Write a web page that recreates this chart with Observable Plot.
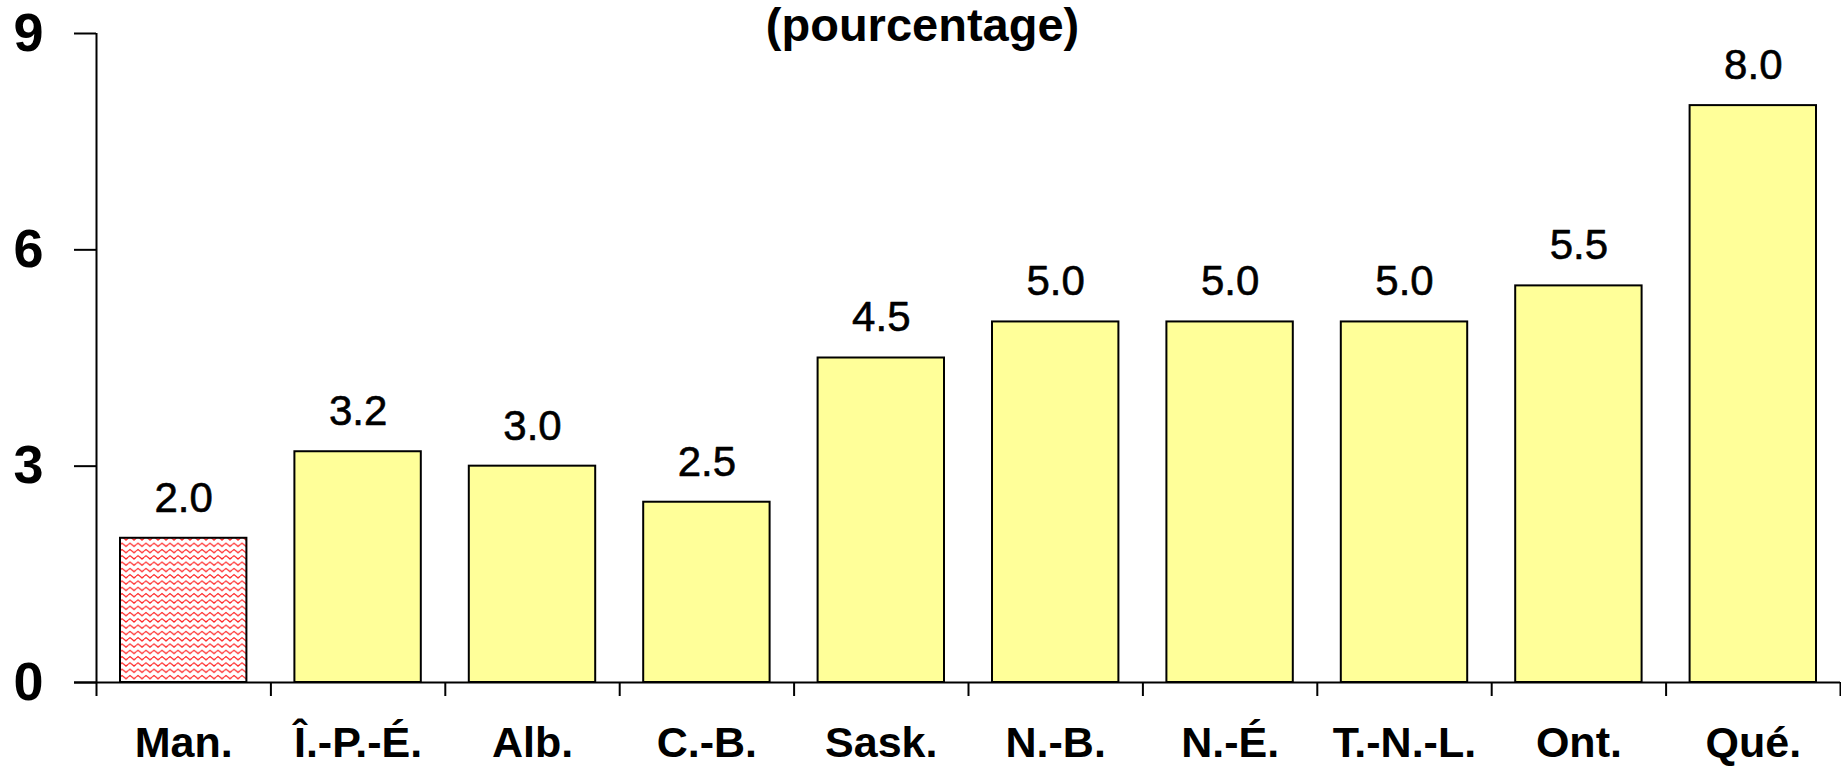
<!DOCTYPE html>
<html>
<head>
<meta charset="utf-8">
<script src="https://cdn.jsdelivr.net/npm/d3@7"></script>
<script src="https://cdn.jsdelivr.net/npm/@observablehq/plot@0.6"></script>
<style>
  html, body { margin: 0; padding: 0; background: #fff; }
  svg { display: block; }
</style>
</head>
<body>
<div id="chart"></div>
<script>
const provinces = ["Man.", "Î.-P.-É.", "Alb.", "C.-B.", "Sask.", "N.-B.", "N.-É.", "T.-N.-L.", "Ont.", "Qué."];
const values = [2.0, 3.2, 3.0, 2.5, 4.5, 5.0, 5.0, 5.0, 5.5, 8.0];
const highlighted = ["Man."];
const yTicks = [0, 3, 6, 9];
const title = "(pourcentage)";

const data = provinces.map((p, i) => ({province: p, value: values[i], idx: i}));
const boundaries = d3.range(0, provinces.length + 1);
const centers = provinces.map((p, i) => i + 0.5);

const FONT = "'Liberation Sans', Arial, sans-serif";

const chart = Plot.plot({
  width: 1841,
  height: 767,
  marginLeft: 96,
  marginRight: 1,
  marginTop: 33,
  marginBottom: 85,
  style: {fontFamily: FONT, background: "#fff", overflow: "visible"},
  x: {domain: [0, provinces.length], axis: null},
  y: {domain: [0, 9], axis: null},
  color: {type: "identity"},
  marks: [
    Plot.rectY(data, {
      x1: d => d.idx, x2: d => d.idx + 1, y: "value",
      insetLeft: 24, insetRight: 24,
      fill: d => highlighted.includes(d.province) ? "url(#wave)" : "#ffff99",
      stroke: "#000", strokeWidth: 2
    }),
    Plot.text(data, {
      x: d => d.idx + 0.5, y: "value", text: d => d.value.toFixed(1),
      dy: -40, fontSize: 42, fill: "#000", stroke: "#000", strokeWidth: 0.6, lineAnchor: "middle"
    }),
    // axes
    Plot.axisY({
      ticks: yTicks, tickSize: 22, tickPadding: 31, fontSize: 54, fontWeight: "bold",
      strokeWidth: 2, tickFormat: d => String(d), fill: "#000", stroke: "#000", label: null
    }),
    Plot.axisX({
      ticks: centers, tickSize: 0, tickPadding: 44, fontSize: 43, fontWeight: "bold",
      tickFormat: d => provinces[Math.round(d - 0.5)], fill: "#000", label: null
    }),
    Plot.ruleX([0], {y1: 9, y2: 0, insetBottom: -14, stroke: "#000", strokeWidth: 2}),
    Plot.ruleY([0], {x1: 0, x2: provinces.length, insetLeft: -22, stroke: "#000", strokeWidth: 2}),
    Plot.ruleX(boundaries.slice(1), {y1: 0, y2: 0, insetBottom: -14, stroke: "#000", strokeWidth: 2}),
    Plot.text([title], {
      frameAnchor: "top", lineAnchor: "middle", dy: -8, dx: -46,
      fontSize: 47, fontWeight: "bold", fill: "#000"
    })
  ]
});

const svg = d3.select(chart);
const defs = svg.insert("defs", ":first-child");
const pat = defs.append("pattern")
  .attr("id", "wave")
  .attr("patternUnits", "userSpaceOnUse")
  .attr("width", 8).attr("height", 6.3);
pat.append("rect").attr("width", 8).attr("height", 6.3).attr("fill", "#fff");
pat.append("path")
  .attr("d", "M0,3 L2,1.4 L4,3 L6,4.6 L8,3")
  .attr("fill", "none").attr("stroke", "#ff2020").attr("stroke-width", 1.2);

document.getElementById("chart").appendChild(chart);
</script>
</body>
</html>
